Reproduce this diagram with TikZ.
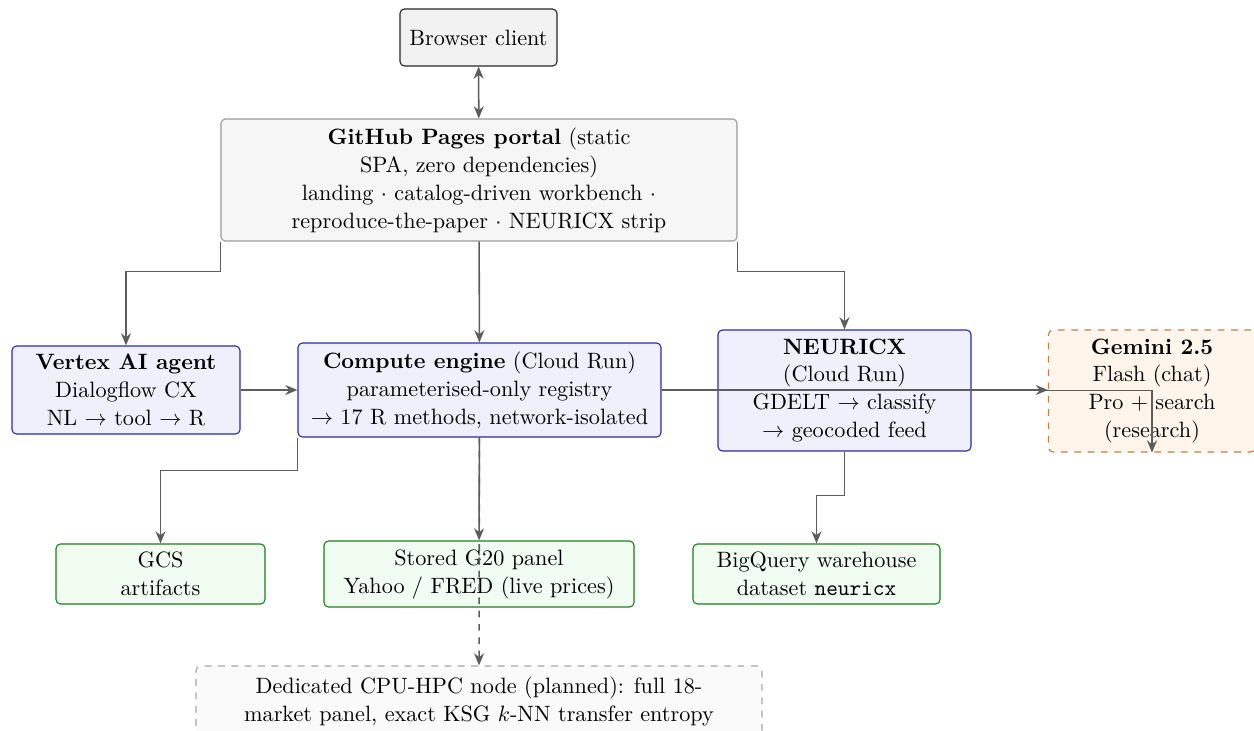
\documentclass[tikz,border=0pt]{standalone}
\usetikzlibrary{arrows.meta}
\definecolor{arrgray}{HTML}{5C5C5C}
\definecolor{bluefill}{HTML}{EFF0FC}
\definecolor{blueline}{HTML}{2B2BA3}
\definecolor{greenfill}{HTML}{F0FDF0}
\definecolor{greenline}{HTML}{1E7D1E}
\definecolor{orfill}{HTML}{FFF5EA}
\definecolor{orline}{HTML}{BA8048}
\def\u{0.4505pt}
\tikzset{
  box/.style={draw, rounded corners=2pt, align=center, line width=0.5pt, inner sep=3pt,
    font={\fontsize{10}{12.6}\selectfont}},
  graybox/.style={box, fill=gray!10, draw=black!85},
  portalbox/.style={box, fill=gray!7, draw=gray!80},
  bluebox/.style={box, fill=bluefill, draw=blueline},
  greenbox/.style={box, fill=greenfill, draw=greenline},
  gembox/.style={box, fill=orfill, draw=orline, dashed},
  planbox/.style={box, fill=gray!4, draw=gray!70, dashed},
  arr/.style={draw=arrgray, line width=0.7pt, -{Stealth[length=5.5pt,width=4.5pt]}},
}
\begin{document}
\begin{tikzpicture}[x=\u, y=-\u]
\useasboundingbox (0,0) rectangle (1254,730);
\node[graybox, minimum width={157*\u}, minimum height={57*\u}] (browser) at (478.5,37.5) {Browser client};
\node[portalbox, minimum width={516*\u}, minimum height={122*\u}] (portal) at (479,180)
  {\textbf{GitHub Pages portal} (static\\ SPA, zero dependencies)\\ landing $\cdot$ catalog-driven workbench $\cdot$\\ reproduce-the-paper $\cdot$ NEURICX strip};
\node[bluebox, minimum width={228*\u}, minimum height={88*\u}] (vertex) at (126,390)
  {\textbf{Vertex AI agent}\\ Dialogflow CX\\ NL $\to$ tool $\to$ R};
\node[bluebox, minimum width={363*\u}, minimum height={94*\u}] (compute) at (479.5,390)
  {\textbf{Compute engine} (Cloud Run)\\ parameterised-only registry\\ $\to$ 17 R methods, network-isolated};
\node[bluebox, minimum width={253*\u}, minimum height={121*\u}] (neuricx) at (844.5,390.5)
  {\textbf{NEURICX}\\ (Cloud Run)\\ GDELT $\to$ classify\\ $\to$ geocoded feed};
\node[gembox, minimum width={207*\u}, minimum height={122*\u}] (gemini) at (1152,391)
  {\textbf{Gemini 2.5}\\ Flash (chat)\\ Pro + search\\ (research)};
\node[greenbox, minimum width={209*\u}, minimum height={60*\u}] (gcs) at (160.5,574)
  {GCS\\ artifacts};
\node[greenbox, minimum width={310*\u}, minimum height={66*\u}] (stored) at (479,574)
  {Stored G20 panel\\ Yahoo / FRED (live prices)};
\node[greenbox, minimum width={247*\u}, minimum height={60*\u}] (bigquery) at (816.5,574)
  {BigQuery warehouse\\ dataset \texttt{neuricx}};
\node[planbox, minimum width={566*\u}, minimum height={71*\u}] (dedicated) at (479,701.5)
  {Dedicated CPU-HPC node (planned): full 18-\\ market panel, exact KSG $k$-NN transfer entropy};
% connectors
\draw[arr, {Stealth[length=5.5pt,width=4.5pt]}-{Stealth[length=5.5pt,width=4.5pt]}] (browser) -- (portal);
\draw[arr] (portal.south west) -- ++(0,30) -| (vertex.north);
\draw[arr] (portal) -- (compute);
\draw[arr] (portal.south east) -- ++(0,30) -| (neuricx.north);
\draw[arr] (vertex) -- (compute);
\draw[arr] (compute.east) -- (compute.east -| gemini.west);
\draw[arr] (neuricx.east) -| (gemini.south);
\draw[arr] (compute.south west) -- ++(0,33) -| (gcs.north);
\draw[arr] (compute) -- (stored);
\draw[arr, dashed] (compute) -- (dedicated);
\draw[arr] (neuricx.south) -- ++(0,44) -| (bigquery.north);
\end{tikzpicture}
\end{document}
